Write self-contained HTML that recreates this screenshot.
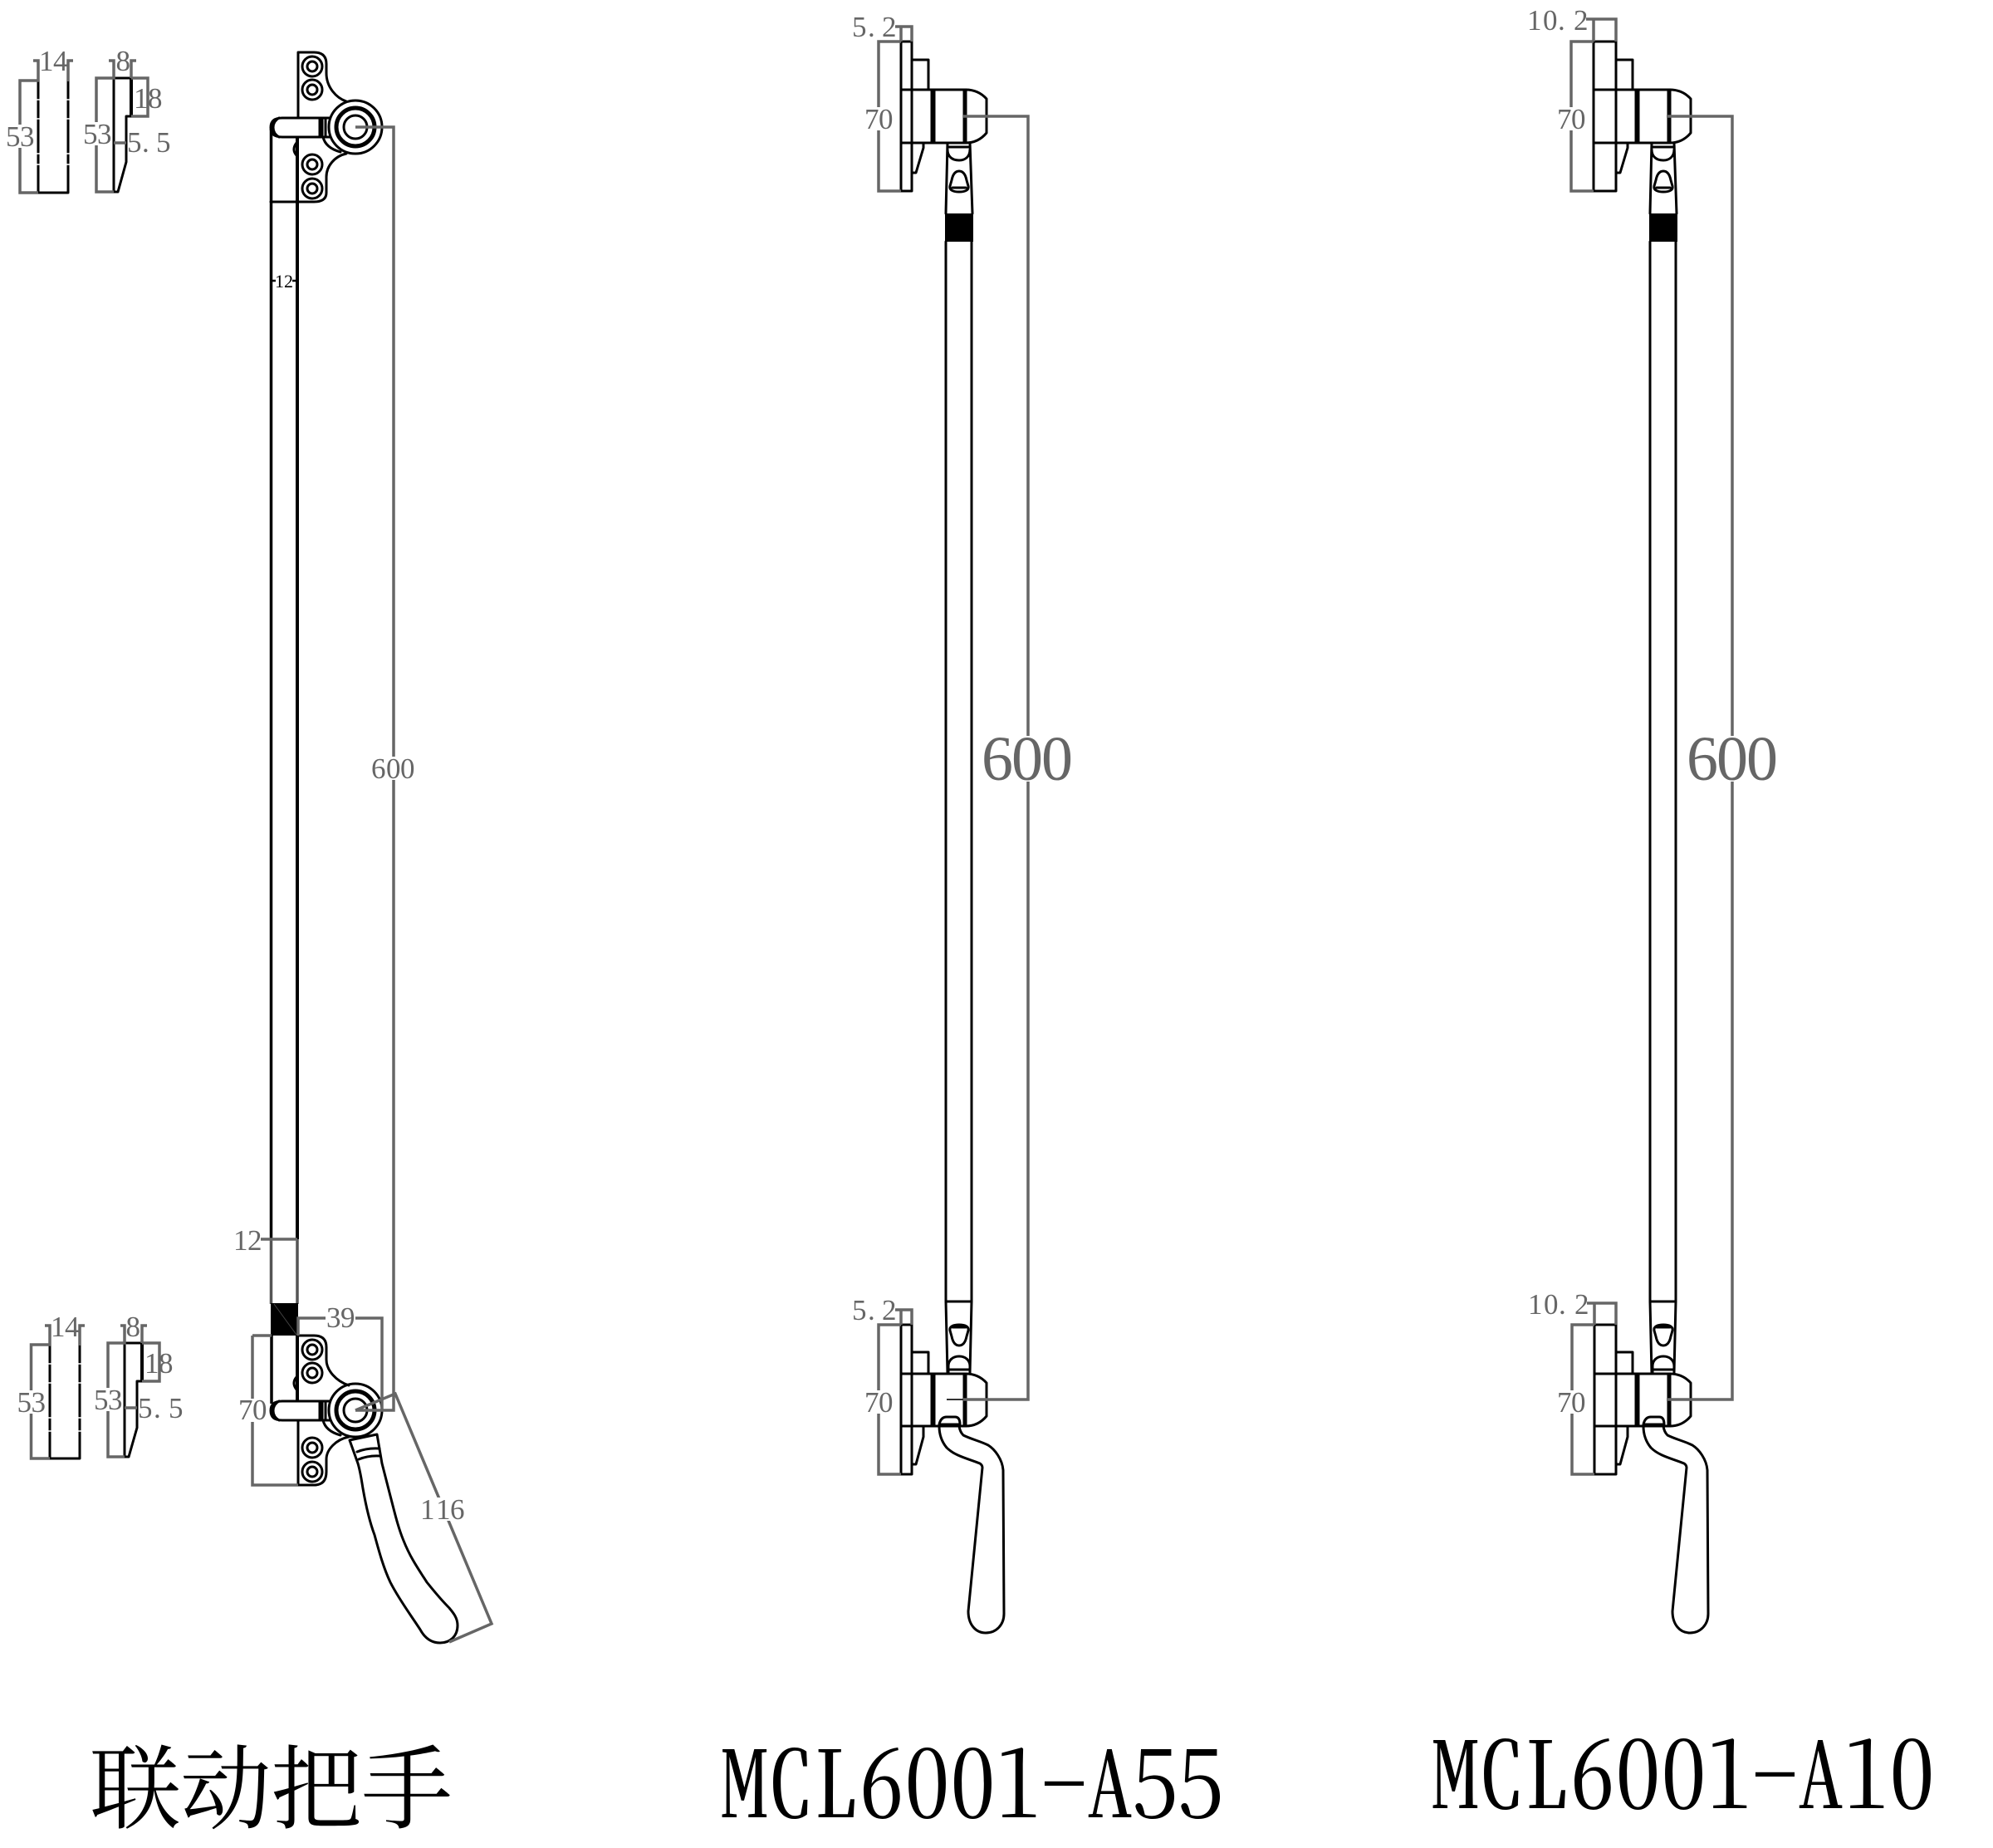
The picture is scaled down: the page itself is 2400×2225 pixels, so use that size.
<!DOCTYPE html>
<html><head><meta charset="utf-8"><style>
html,body{margin:0;padding:0;background:#fff}
svg{display:block}
.k{fill:none;stroke:#000;stroke-width:3;stroke-linejoin:round;stroke-linecap:round}
.t{fill:none;stroke:#000;stroke-width:4}
.g{fill:none;stroke:#666;stroke-width:3.5;stroke-linejoin:miter}
.d{font-family:"Liberation Serif",serif;font-size:35px;fill:#666}
.b{font-family:"Liberation Serif",serif;font-size:76px;fill:#666}
.ti{font-family:"Noto Serif CJK SC","Liberation Serif",serif;font-size:110px;fill:#000;font-feature-settings:"hwid"}
</style></head><body>
<svg xmlns="http://www.w3.org/2000/svg" width="2400" height="2225" viewBox="0 0 2400 2225">
<rect width="2400" height="2225" fill="#fff"/>

<!-- LEFT top sections -->
<path class="k" d="M46,97V232H82V98"/>
<path d="M44,120h4M44,143h4M44,185h4M44,198h4M80,120h4M80,143h4M80,185h4M80,198h4" stroke="#fff" stroke-width="1.5"/>
<path class="g" d="M46,232H24V97H46V73H40M82,98V73H88"/>
<path class="k" d="M137,231V94H158M142,231H137M142,231L152,195V140H158"/>
<path class="t" d="M158,94V140"/>
<path class="g" d="M137,231H116V94H137V73H131M158,94V73H164M158,94H178V140H158M137,172H152"/>

<!-- LEFT bottom sections -->
<path class="k" d="M60,1619V1756H96V1620"/>
<path d="M58,1642h4M58,1665h4M58,1707h4M58,1723h4M94,1642h4M94,1665h4M94,1707h4M94,1723h4" stroke="#fff" stroke-width="1.5"/>
<path class="g" d="M60,1756H37.5V1619H60V1596H54M96,1620V1596H102"/>
<path class="k" d="M150,1754V1617H171M155,1754H150M155,1754L165,1719V1663H171"/>
<path class="t" d="M171,1617V1663"/>
<path class="g" d="M150,1754H130V1617H150V1596H145M171,1617V1596H177M171,1617H192V1663H171M150,1695H165"/>

<!-- LEFT main: top assembly -->
<path class="k" d="M359,142V63H378Q393,63 393,77V88C393,105 405,118 417,122"/>
<path class="k" d="M417,185C403,188 393,200 393,213V232Q393,243 378,243H326"/>
<path class="k" d="M397,142H340Q326,142 326,153.5Q326,165 340,165H397M336,142Q329,146 329,153.5Q329,161 336,165M385,143V164M388,143V164M392,143V164M389,165Q392,178 410,183M357,172Q351,180 357,187"/>
<circle class="k" cx="428" cy="153" r="32"/><circle class="k" cx="428" cy="153" r="24"/><circle class="k" cx="428" cy="153" r="22"/><circle class="k" cx="428" cy="153" r="14"/>
<g class="k">
<circle cx="376" cy="80" r="12"/><circle cx="376" cy="80" r="6"/>
<circle cx="376" cy="108" r="12"/><circle cx="376" cy="108" r="6"/>
<circle cx="376" cy="198" r="12"/><circle cx="376" cy="198" r="6"/>
<circle cx="376" cy="227" r="12"/><circle cx="376" cy="227" r="6"/>
</g>
<path class="t" style="stroke-width:3.5" d="M326.5,155V1492"/>
<path class="t" d="M358,165V1492"/>
<path d="M326.5,1492V1570M358,1492V1570" fill="none" stroke="#555" stroke-width="3.5"/>
<rect x="326" y="1569" width="33" height="39" fill="#000"/>
<path d="M330,1570L357,1607" stroke="#444" stroke-width="1"/>

<!-- LEFT main: bottom assembly -->
<path class="t" style="stroke-width:3.5" d="M327,1608V1690"/>
<path class="t" d="M358,1608V1687"/>
<path class="k" d="M358,1608H378Q393,1608 393,1622V1637C393,1650 405,1663 420,1668"/>
<path class="k" d="M359,1710V1788H378Q393,1788 393,1772V1757C393,1745 405,1733 420,1730"/>
<path class="k" d="M397,1687H340Q326,1687 326,1698.5Q326,1710 340,1710H397M336,1687Q329,1691 329,1698.5Q329,1706 336,1710M385,1688V1709M388,1688V1709M392,1688V1709M389,1710Q392,1723 410,1728M357,1658Q351,1665 357,1673"/>
<circle class="k" cx="428" cy="1698" r="32"/><circle class="k" cx="428" cy="1698" r="24"/><circle class="k" cx="428" cy="1698" r="22"/><circle class="k" cx="428" cy="1698" r="14"/>
<g class="k">
<circle cx="376" cy="1625" r="12"/><circle cx="376" cy="1625" r="6"/>
<circle cx="376" cy="1653" r="12"/><circle cx="376" cy="1653" r="6"/>
<circle cx="376" cy="1743" r="12"/><circle cx="376" cy="1743" r="6"/>
<circle cx="376" cy="1772" r="12"/><circle cx="376" cy="1772" r="6"/>
</g>
<!-- left handle -->
<path class="k" d="M421,1734L431,1762C434,1772 435,1780 437,1792C441,1815 445,1832 451,1848C457,1870 462,1888 470,1905C480,1925 495,1945 506,1962C512,1973 520,1978 530,1978C542,1978 551,1970 551,1957C551,1948 546,1942 541,1936C530,1925 522,1915 514,1905C503,1888 494,1875 486,1855C479,1838 475,1820 470,1801L460,1762L454,1727Z"/>
<path class="k" d="M430,1748Q442,1743 457,1744M432,1757Q444,1752 458,1753"/>

<!-- LEFT dims -->
<path class="g" d="M428,153H474V1698H428M358,1492H314M304,1608H327M304,1608V1788H359M359,1608V1587H460V1698M428,1698L476,1678L592,1955L541,1977"/>
<path d="M327,338h5M352,338h5" stroke="#000" stroke-width="2.5"/>

<!-- CENTER drawing -->
<g id="body">
<path class="k" d="M1118,108V72H1098M1122,108V172M1125,108V172M1161,108V172M1163,108V172"/>
<path class="k" d="M1163,108Q1178,108 1188,119V160Q1178,172 1163,172"/>
<path class="k" d="M1098,172V208H1103L1112,178V172"/>
<path class="k" d="M1141,172L1139,257M1168,172L1171,257M1141,177H1168M1141,180C1141,188 1146,193 1155,193C1163,193 1168,188 1168,180"/>
<path class="k" d="M1155,206C1149,206 1147,212 1146,217L1144,224C1143,229 1148,231 1155,231C1162,231 1167,229 1166,224L1164,217C1163,212 1161,206 1155,206ZM1147,226H1163"/>
<rect x="1138" y="257" width="34" height="34" fill="#000"/>
<path class="k" d="M1139,291V1567H1170V291"/>
<path class="k" d="M1139,1567L1141,1653M1170,1567L1168,1653"/>
<path class="k" d="M1155,1620C1149,1620 1147,1614 1146,1609L1144,1602C1143,1597 1148,1595 1155,1595C1162,1595 1167,1597 1166,1602L1164,1609C1163,1614 1161,1620 1155,1620ZM1147,1598H1163"/>
<path class="k" d="M1142,1653V1645C1142,1638 1147,1633 1155,1633C1163,1633 1168,1638 1168,1645V1653M1142,1649H1168"/>
<path class="k" d="M1118,1654V1628H1098M1122,1654V1717M1125,1654V1717M1161,1654V1717M1163,1654V1717"/>
<path class="k" d="M1163,1654Q1178,1654 1188,1665V1705Q1178,1717 1163,1717"/>
<path class="k" d="M1112,1717V1730L1103,1763H1098"/>
<path class="k" d="M1131,1715Q1133,1706 1140,1706H1150Q1156,1706 1156,1715Z"/>
<path class="k" d="M1131,1717C1131,1728 1135,1737 1140,1743C1150,1753 1165,1756 1180,1762Q1183,1764 1183,1767L1166,1940C1166,1956 1175,1966 1187,1966C1200,1966 1209,1956 1209,1943L1208,1770C1207,1757 1198,1745 1190,1740C1180,1735 1170,1733 1160,1728Q1156,1724 1155,1717"/>
</g>
<path class="k" d="M1085,108H1163M1085,172H1163M1085,50V230H1098V50ZM1098,50H1085M1085,1654H1163M1085,1717H1163M1085,1595V1775H1098V1595Z"/>
<path class="g" d="M1085,50V32H1078M1085,32H1098V50M1085,50H1058V230H1085M1085,1595V1577H1078M1085,1577H1098V1595M1085,1595H1058V1775H1085M1160,140H1238V1685H1160"/>
<path d="M1140,1685H1160" stroke="#333" stroke-width="2"/>

<!-- RIGHT drawing -->
<use href="#body" x="848" y="0"/>
<path class="k" d="M1919,108H2011M1919,172H2011M1919,50V230H1946V50ZM1920,1654H2011M1920,1717H2011M1920,1595V1775H1946V1595Z"/>
<path class="g" d="M1919,50V23H1910M1919,23H1946V50M1919,50H1892V230H1919M1920,1595V1569H1911M1920,1569H1946V1595M1920,1595H1893V1775H1920M2007,140H2086V1685H2007"/>

<!-- white behind labels -->
<g fill="#fff">
<rect x="6" y="150" width="37" height="28"/>
<rect x="99" y="147" width="36" height="28"/>
<rect x="19" y="1674" width="37" height="28"/>
<rect x="112" y="1671" width="36" height="28"/>
<rect x="447" y="911" width="54" height="28"/>
<rect x="286" y="1684" width="36" height="28"/>
<rect x="392" y="1574" width="36" height="26"/>
<rect x="506" y="1803" width="54" height="28"/>
<rect x="1040" y="129" width="36" height="28"/>
<rect x="1040" y="1674" width="36" height="28"/>
<rect x="1875" y="129" width="36" height="28"/>
<rect x="1875" y="1674" width="36" height="28"/>
<rect x="1180" y="886" width="108" height="55"/>
<rect x="2029" y="886" width="108" height="55"/>
</g>

<!-- dim text -->
<text class="d" x="47 64" y="85">14</text>
<text class="d" x="7 24" y="176">53</text>
<text class="d" x="139.5" y="85">8</text>
<text class="d" x="161 178" y="130">18</text>
<text class="d" x="100 117" y="173">53</text>
<text class="d" x="153 171 188" y="183">5.5</text>
<text style="font-family:'Liberation Serif',serif;font-size:22px;fill:#000" x="331 342" y="346">12</text>
<text class="d" x="447 465 482" y="937">600</text>
<text class="d" x="281 298" y="1505">12</text>
<text class="d" x="61 78" y="1609">14</text>
<text class="d" x="20.5 37.5" y="1700">53</text>
<text class="d" x="151.5" y="1609">8</text>
<text class="d" x="174 191" y="1653">18</text>
<text class="d" x="113 130" y="1697">53</text>
<text class="d" x="166 185 203" y="1707">5.5</text>
<text class="d" x="287 304" y="1709">70</text>
<text class="d" x="393 410" y="1598">39</text>
<text class="d" x="506 525 542" y="1829">116</text>

<text class="d" x="1026 1045 1062" y="44">5.2</text>
<text class="d" x="1041 1058" y="155">70</text>
<text class="d" x="1026 1045 1062" y="1589">5.2</text>
<text class="d" x="1041 1058" y="1700">70</text>
<text class="b" x="1182 1218 1254" y="939">600</text>

<text class="d" x="1839 1858 1876 1895" y="36">10.2</text>
<text class="d" x="1875 1892" y="155">70</text>
<text class="d" x="1840 1859 1877 1896" y="1582">10.2</text>
<text class="d" x="1875 1892" y="1700">70</text>
<text class="b" x="2031 2067 2103" y="939">600</text>

<!-- titles -->
<text class="ti" style="font-size:110px;font-feature-settings:normal" x="108 217 326 435" y="2193">联动把手</text>
<text class="ti" x="869 924 979 1034 1089 1144 1199 1254 1309 1364 1419" y="2188">MCL6001-A55</text>
<text class="ti" x="1725 1780 1835 1890 1945 2000 2055 2110 2165 2220 2275" y="2177">MCL6001-A10</text>
</svg>
</body></html>
